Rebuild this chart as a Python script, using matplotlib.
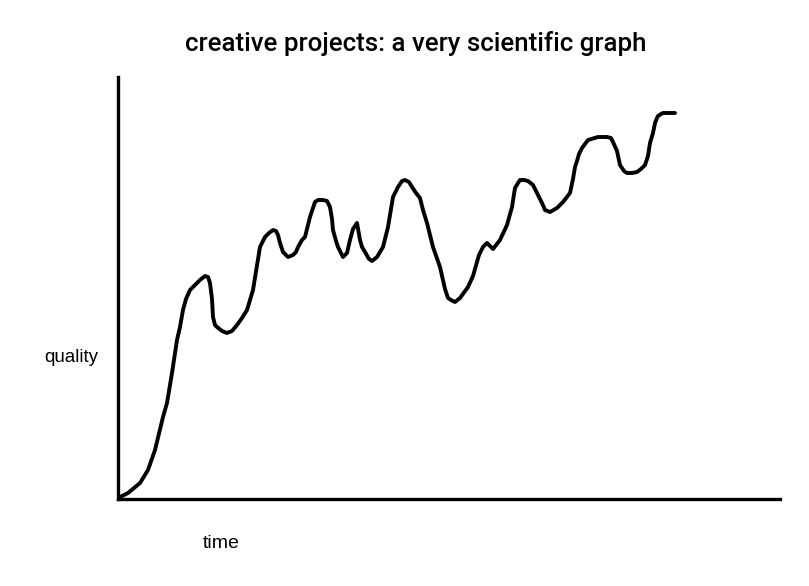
import matplotlib
matplotlib.use("Agg")
import matplotlib.pyplot as plt

# time (px from y-axis) and quality (px above x-axis)
time = [
    0, 10, 22, 30, 37, 45, 49, 54, 59, 62,
    65, 68, 72, 77, 82, 87, 90, 92, 94, 95,
    97, 99, 104, 109, 114, 119, 124, 129, 135, 142,
    147, 151, 155, 158, 160, 162, 165, 170, 175, 178,
    180, 184, 187, 192, 197, 200, 205, 209, 212, 214,
    215, 218, 220, 225, 229, 232, 235, 239, 242, 244,
    247, 251, 254, 259, 265, 270, 275, 280, 284, 287,
    291, 294, 298, 302, 305, 309, 315, 322, 327, 330,
    333, 337, 342, 350, 355, 361, 365, 369, 375, 382,
    389, 394, 397, 400, 402, 406, 410, 415, 420, 424,
    427, 432, 439, 445, 452, 455, 457, 459, 461, 464,
    467, 470, 480, 489, 493, 495, 499, 502, 506, 509,
    514, 519, 523, 527, 530, 532, 535, 537, 539, 540,
    543, 545, 549, 552, 557,
]
quality = [
    1, 6, 16, 29, 49, 82, 96, 126, 159, 172,
    189, 200, 209, 214, 219, 223, 222, 216, 200, 182,
    174, 172, 168, 166, 168, 174, 181, 189, 209, 252,
    262, 266, 269, 268, 264, 256, 247, 242, 244, 247,
    252, 259, 262, 282, 297, 299, 299, 298, 292, 280,
    269, 258, 252, 242, 246, 259, 270, 276, 259, 252,
    247, 240, 238, 242, 252, 272, 302, 312, 318, 319,
    317, 312, 306, 301, 289, 276, 252, 232, 210, 201,
    199, 197, 201, 212, 223, 244, 252, 256, 250, 259,
    274, 292, 311, 316, 319, 319, 318, 314, 304, 296,
    289, 287, 291, 297, 306, 320, 332, 338, 345, 351,
    355, 359, 362, 362, 361, 357, 348, 334, 328, 326,
    326, 327, 330, 334, 343, 356, 366, 376, 381, 383,
    385, 386, 386, 386, 386,
]

fig = plt.figure(figsize=(8.09, 5.86), dpi=100)
ax = fig.add_axes([118/809, 1-499/586, (780-118)/809, (499-77)/586])
ax.plot(time, quality, color="black", linewidth=2.8, solid_capstyle="round",
        solid_joinstyle="round")
ax.set_xlim(0, 662)
ax.set_ylim(0, 422)
ax.set_xticks([])
ax.set_yticks([])
for s in ["top", "right"]:
    ax.spines[s].set_visible(False)
for s in ["left", "bottom"]:
    ax.spines[s].set_linewidth(2.4)
    ax.spines[s].set_color("black")

fig.text(416/809, 1-44/586, "creative projects: a very scientific graph",
         ha="center", va="center", fontsize=18.6, family="Roboto", weight="medium")
fig.text(71/809, 1-358/586, "quality", ha="center", va="center",
         fontsize=13.5, family="Liberation Sans")
fig.text(221/809, 1-544/586, "time", ha="center", va="center",
         fontsize=14, family="Liberation Sans")

fig.savefig("out.png", dpi=100)
